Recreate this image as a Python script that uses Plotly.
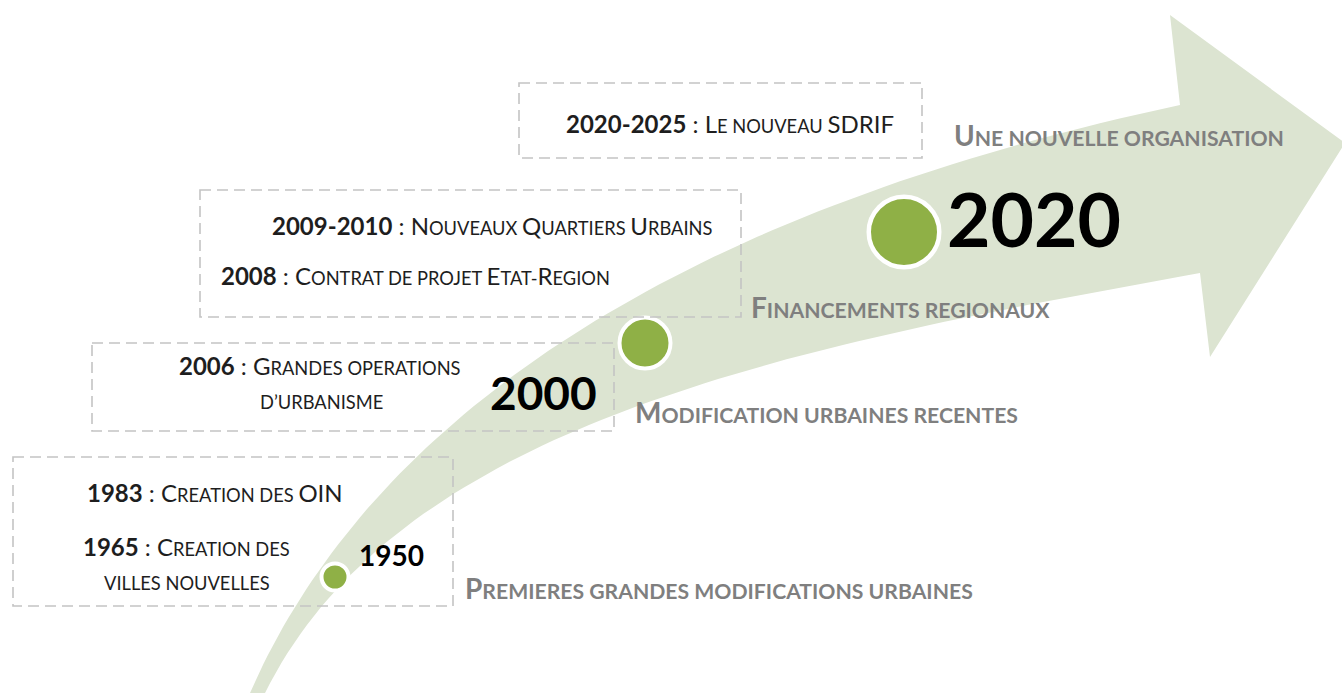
import numpy as np
import plotly.graph_objects as go

# ---------------- data ----------------
era_years = ["1950", "2000", "2020"]
era_stages = ["Premieres grandes modifications urbaines",
              "Modification urbaines recentes",
              "Financements regionaux",
              "Une nouvelle organisation"]
event_years = ["2020-2025", "2009-2010", "2008", "2006", "1983", "1965"]
event_texts = ["Le nouveau SDRIF",
               "Nouveaux Quartiers Urbains",
               "Contrat de projet Etat-Region",
               "Grandes operations|d’urbanisme",
               "Creation des OIN",
               "Creation des|villes nouvelles"]

# ---------------- layout geometry (pixel space) ----------------
W, H = 1342, 693
FONT = "Lato, 'Open Sans', sans-serif"

upper_ctrl = np.array([[250, 693], [360, 440], [640, 220], [1180, 105]])
lower_ctrl = np.array([[265, 693], [400, 420], [800, 345], [1200, 273]])
head_pts = np.array([[1170, 15], [1345, 143], [1210, 357]])

circle_xy = [(335, 577), (645, 343), (904, 232)]
circle_r = [11.5, 23.5, 33]
ring_w = [4, 4, 4.5]

year_pos = [(391, 555, "center"), (543, 392, "center"), (945, 218, "left")]
year_size = [28, 46, 75]

stage_pos = [(463, 588), (633, 412), (749, 307), (952, 135)]

boxes = [(519, 83, 922, 158), (200, 190, 741, 317), (92, 343, 614, 431), (13, 457, 453, 606)]
# event line positions: (x, y, anchor)
event_lines = [[(564, 123, "left")],
               [(270, 225, "left")],
               [(219, 275, "left")],
               [(177, 365, "left"), (321, 402, "center")],
               [(85, 492, "left")],
               [(81, 546, "left"), (187, 583, "center")]]

ARROW = "#dce4d1"
DOT = "#8fb046"
GREY = "#7f7f7f"
BOXC = "#c4c4c4"
EV_BIG, EV_SMALL = 24, 18.3
ST_BIG, ST_SMALL = 28, 21.2


def bezier(P, n=80):
    t = np.linspace(0, 1, n)[:, None]
    return ((1 - t) ** 3 * P[0] + 3 * (1 - t) ** 2 * t * P[1]
            + 3 * (1 - t) * t ** 2 * P[2] + t ** 3 * P[3])


def smallcaps(s, big, small):
    html, cur, buf = "", None, ""
    for ch in s:
        sz = big if ch.isupper() else small
        if sz != cur and buf:
            html += f'<span style="font-size:{cur}px">{buf}</span>'
            buf = ""
        cur = sz
        buf += ch.upper()
    if buf:
        html += f'<span style="font-size:{cur}px">{buf}</span>'
    return html


up = bezier(upper_ctrl)
lo = bezier(lower_ctrl)[::-1]
poly = np.vstack([up, head_pts, lo])

fig = go.Figure()
fig.add_trace(go.Scatter(x=poly[:, 0], y=poly[:, 1], mode="lines", fill="toself",
                         fillcolor=ARROW, line=dict(width=0), hoverinfo="skip",
                         showlegend=False))

fig.add_trace(go.Scatter(
    x=[c[0] for c in circle_xy], y=[c[1] for c in circle_xy], mode="markers",
    marker=dict(color=DOT, opacity=1, size=[2 * r + w for r, w in zip(circle_r, ring_w)],
                line=dict(color="white", width=ring_w)),
    hoverinfo="skip", showlegend=False))

shapes = []
for (x0, y0, x1, y1) in boxes:
    shapes.append(dict(type="rect", xref="x", yref="y", x0=x0, y0=y0, x1=x1, y1=y1,
                       line=dict(color=BOXC, width=1.6, dash="11px,6px"),
                       fillcolor="rgba(0,0,0,0)", layer="above"))

ann = []
for yr, (x, y, anc), sz in zip(era_years, year_pos, year_size):
    ann.append(dict(x=x, y=y, xref="x", yref="y", text=f"<b>{yr}</b>", showarrow=False,
                    xanchor=anc, yanchor="middle",
                    font=dict(family=FONT, size=sz, color="black")))

for st, (x, y) in zip(era_stages, stage_pos):
    ann.append(dict(x=x, y=y, xref="x", yref="y",
                    text="<b>" + smallcaps(st, ST_BIG, ST_SMALL) + "</b>",
                    showarrow=False, xanchor="left", yanchor="middle",
                    font=dict(family=FONT, size=ST_SMALL, color=GREY)))

for yr, txt, lines in zip(event_years, event_texts, event_lines):
    parts = txt.split("|")
    for i, (part, (x, y, anc)) in enumerate(zip(parts, lines)):
        t = smallcaps(part, EV_BIG, EV_SMALL)
        if i == 0:
            t = f'<span style="font-size:{EV_BIG}px"><b>{yr}</b> : </span>' + t
        ann.append(dict(x=x, y=y, xref="x", yref="y", text=t, showarrow=False,
                        xanchor=anc, yanchor="middle",
                        font=dict(family=FONT, size=EV_SMALL, color="#1e1e1e")))

fig.update_layout(
    width=W, height=H, margin=dict(l=0, r=0, t=0, b=0),
    paper_bgcolor="white", plot_bgcolor="white",
    xaxis=dict(range=[0, W], visible=False, fixedrange=True),
    yaxis=dict(range=[H, 0], visible=False, fixedrange=True),
    shapes=shapes, annotations=ann, showlegend=False)

fig.write_html("out.html", config={"displayModeBar": False},
               post_script="document.body.style.margin='0';")
